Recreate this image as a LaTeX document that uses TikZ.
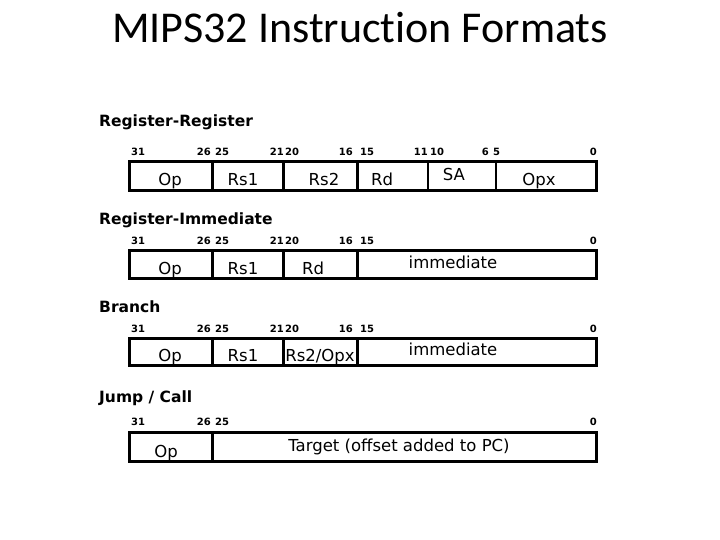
\documentclass[tikz,border=0pt]{standalone}
\usepackage{fontspec}
\setmainfont{Carlito}[Ligatures=NoCommon]
\newfontfamily\fieldfont{DejaVu Sans}
\usetikzlibrary{positioning}

\begin{document}
\begin{tikzpicture}[x=1pt,y=-1pt,
    hdr/.style={font=\fieldfont\bfseries\fontsize{15.5}{17}\selectfont,anchor=base west,inner sep=0pt},
    bitno/.style={font=\fieldfont\bfseries\fontsize{10}{11}\selectfont,inner sep=0pt},
    fld/.style={font=\fieldfont\fontsize{16.5}{18}\selectfont,anchor=base,inner sep=0pt},
    fmt/.style={line width=3pt},
    thindiv/.style={line width=1.6pt}]
  \useasboundingbox (0,0) rectangle (720,540);
  \node[font=\fontsize{44}{50}\selectfont,anchor=base,inner sep=0pt] (title) at (360,43) {MIPS32 Instruct\kern0pt ion Formats};

  % register-register
  \node[hdr] (hRR) at (99,127) {Register-Register};
  \foreach \x/\b/\a in {131/31/west,211/26/east,215/25/west,284/21/east,285/20/west,
                        353/16/east,360/15/west,428/11/east,430/10/west,489/6/east,493/5/west,597/0/east}
    \node[bitno,anchor=base \a] (rr-\b) at (\x,156) {\b};
  \node[fld] (rrOp)  at (170,186) {Op};
  \node[fld] (rrRs1) at (243,186) {Rs1};
  \node[fld] (rrRs2) at (324,186) {Rs2};
  \node[fld] (rrRd)  at (382,186) {Rd};
  \node[fld] (rrSA)  at (454,181) {SA};
  \node[fld] (rrOpx) at (539,186) {Opx};
  \draw[fmt] (129,162) rectangle (596,191);
  \foreach \x in {212,283,357} \draw[fmt] (\x,162) -- (\x,191);
  \foreach \x in {428,496} \draw[thindiv] (\x,162) -- (\x,191);

  % register-immediate
  \node[hdr] (hRI) at (99,225) {Register-Immediate};
  \foreach \x/\b/\a in {131/31/west,211/26/east,215/25/west,284/21/east,285/20/west,
                        353/16/east,360/15/west,597/0/east}
    \node[bitno,anchor=base \a] (ri-\b) at (\x,244) {\b};
  \node[fld] (riOp)  at (170,274) {Op};
  \node[fld] (riRs1) at (243,274) {Rs1};
  \node[fld] (riRd)  at (313,274) {Rd};
  \node[fld] (riImm) at (453,268) {immediate};
  \draw[fmt] (129,250) rectangle (596,278);
  \foreach \x in {212,283,357} \draw[fmt] (\x,250) -- (\x,278);

  % branch
  \node[hdr] (hBr) at (99,312) {Branch};
  \foreach \x/\b/\a in {131/31/west,211/26/east,215/25/west,284/21/east,285/20/west,
                        353/16/east,360/15/west,597/0/east}
    \node[bitno,anchor=base \a] (br-\b) at (\x,332) {\b};
  \node[fld] (brOp)  at (170,361) {Op};
  \node[fld] (brRs1) at (243,361) {Rs1};
  \node[fld] (brRs2) at (320,361) {Rs2/Opx};
  \node[fld] (brImm) at (453,355) {immediate};
  \draw[fmt] (129,338) rectangle (596,365);
  \foreach \x in {212,283,357} \draw[fmt] (\x,338) -- (\x,365);

  % jump / call
  \node[hdr] (hJC) at (99,402) {Jump / Call};
  \foreach \x/\b/\a in {131/31/west,211/26/east,215/25/west,597/0/east}
    \node[bitno,anchor=base \a] (jc-\b) at (\x,425) {\b};
  \node[fld] (jcOp)  at (166,457) {Op};
  \node[fld] (jcTgt) at (399,451) {Target (offset added to PC)};
  \draw[fmt] (129,432) rectangle (596,461);
  \draw[fmt] (212,432) -- (212,461);
\end{tikzpicture}
\end{document}
